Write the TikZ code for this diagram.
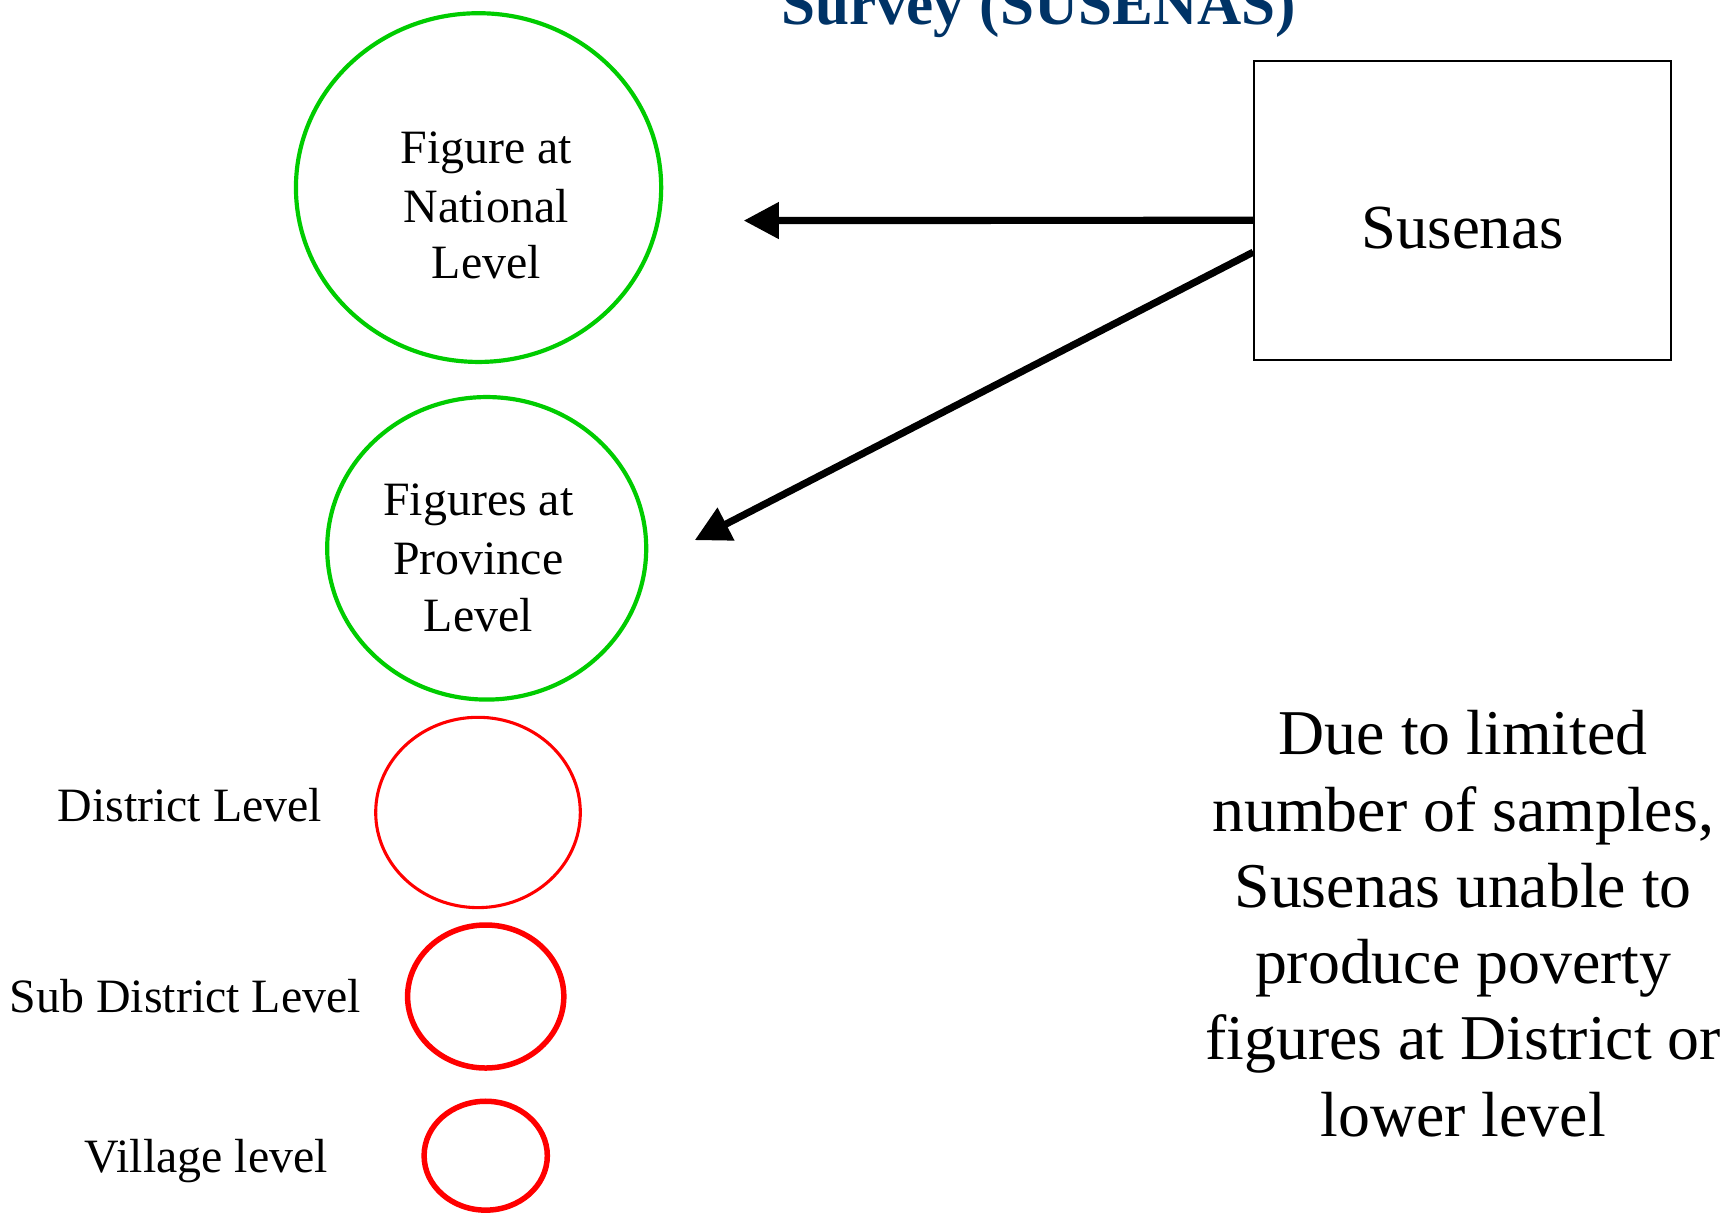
\documentclass[tikz,border=0pt]{standalone}
\usepackage{fontspec}
\setmainfont{Liberation Serif}
\usetikzlibrary{shapes.geometric,arrows.meta}
\definecolor{okgreen}{RGB}{0,204,0}
\definecolor{okred}{RGB}{255,0,0}
\definecolor{titleblue}{RGB}{0,51,102}
\begin{document}
\begin{tikzpicture}[x=1pt,y=-1pt,
  lbl/.style={font=\fontsize{43.5}{52}\selectfont, inner sep=0pt, anchor=base},
  big/.style={font=\fontsize{58}{69.5}\selectfont, inner sep=0pt, anchor=base},
  greenring/.style={ellipse, draw=okgreen, line width=3.8pt, inner sep=0pt},
  redring/.style={ellipse, draw=okred, inner sep=0pt},
  arr/.style={line width=6.5pt, -{Triangle[length=32pt,width=32pt]}}]
\clip (0,0) rectangle (1568,1104);
\fill[white] (0,0) rectangle (1568,1104);
% title (cut off at top)
\node[inner sep=0pt, anchor=base, text=titleblue,
      font=\fontsize{55.6}{60}\selectfont\bfseries] (title) at (944,22.7) {Survey (SUSENAS)};
% Susenas box
\node[draw, line width=1.5pt, minimum width=379pt, minimum height=272pt, inner sep=0pt] (sus) at (1329.4,191.2) {};
\node[inner sep=0pt, anchor=base, font=\fontsize{57}{68}\selectfont] (sustext) at (1329.4,225.7) {Susenas};
% green circles
\node[greenring, minimum width=332pt, minimum height=317pt] (nat) at (435,170.5) {};
\node[lbl] (nat1) at (442,148.2) {Figure at};
\node[lbl] (nat2) at (442,201.8) {National};
\node[lbl] (nat3) at (442,252.7) {Level};
\node[greenring, minimum width=290pt, minimum height=275pt] (prov) at (442.4,498.4) {};
\node[lbl] (prov1) at (434.8,469) {Figures at};
\node[lbl] (prov2) at (434.8,521.8) {Province};
\node[lbl] (prov3) at (434.8,573.6) {Level};
% red circles
\node[redring, line width=2.8pt, minimum width=186pt, minimum height=173pt] (dist) at (434.5,738.5) {};
\node[redring, line width=5pt, minimum width=142pt, minimum height=130pt] (sub) at (441.5,905.8) {};
\node[redring, line width=5pt, minimum width=112pt, minimum height=99pt] (vil) at (441.5,1050.5) {};
\node[lbl] (distl) at (172.5,747) {District Level};
\node[lbl] (subl) at (168.5,920.5) {Sub District Level};
\node[lbl] (vill) at (187.5,1066) {Village level};
% arrows
\coordinate (t1) at (676,200.5);
\coordinate (t2) at (631.5,491);
\draw[arr] ([yshift=-9pt]sus.west) -- (t1);
\draw[arr] ([yshift=-38pt]sus.west) -- (t2);
% note
\node[big] (n1) at (1330,686) {Due to limited};
\node[big] (n2) at (1330,756) {number of samples,};
\node[big] (n3) at (1330,825) {Susenas unable to};
\node[big] (n4) at (1330,893.6) {produce poverty};
\node[big] (n5) at (1330,963.5) {figures at District or};
\node[big] (n6) at (1330,1033) {lower level};
\end{tikzpicture}
\end{document}
